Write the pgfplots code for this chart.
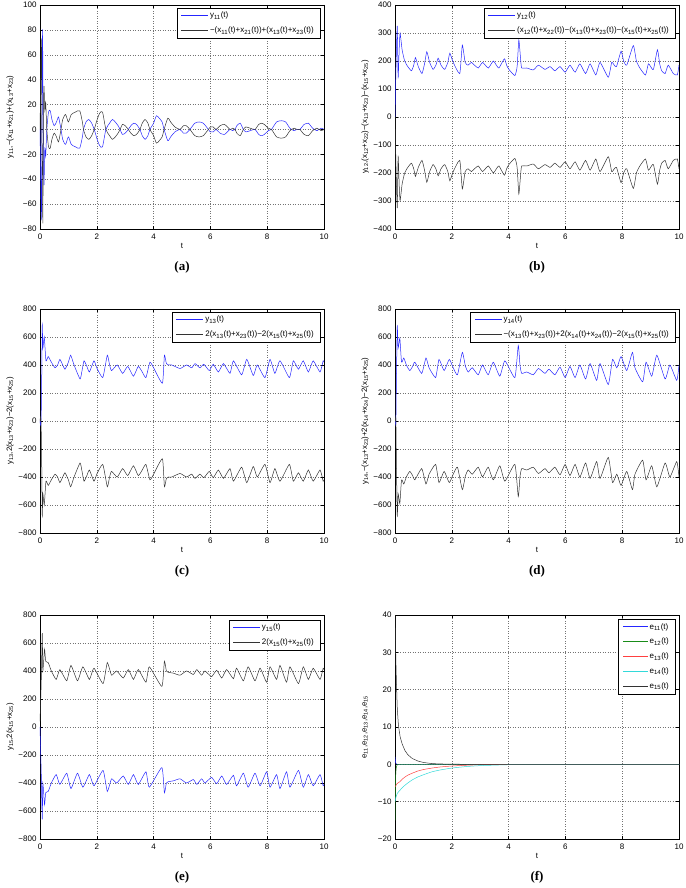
\documentclass[border=0pt]{standalone}
\usepackage{pgfplots}
\pgfplotsset{compat=1.18}
\usepackage{pgfplotstable}
\usepackage{fontspec}
\setmainfont{Liberation Sans}
\newfontfamily\capfont{Liberation Serif}
\newcommand{\s}[1]{\textsubscript{#1}}
\definecolor{mblue}{rgb}{0.15,0.15,1}
\definecolor{mblack}{rgb}{0.2,0.2,0.2}
\definecolor{mgreen}{rgb}{0.1,0.55,0.1}
\definecolor{mred}{rgb}{1,0.25,0.25}
\definecolor{mcyan}{rgb}{0.2,0.85,0.85}

\pgfplotstableread{
t b k
0 0 0
0.02 -30 30
0.05 -72 72
0.07 10 -10
0.09 80 -40
0.10 50 -75
0.12 -20 10
0.14 -45 35
0.17 -15 15
0.20 -22 22
0.24 0 0
0.30 14 -14
0.36 15 -15
0.42 8 -8
0.50 3 -3
0.58 6 -6
0.65 10 -10
0.70 5 -5
0.74 0 0
0.80 -8 8
0.90 -12 12
1.00 -6 6
1.10 -12 12
1.25 -14 14
1.40 -15 15
1.50 -5 5
1.53 0 0
1.62 6 -6
1.72 8 -8
1.82 5 -5
1.91 0 0
2.00 -7 7
2.10 -13 13
2.20 -14 14
2.32 0 0
2.45 5 -5
2.55 8 -8
2.65 6 -6
2.75 3 -3
2.82 0 0
2.90 -4 4
3.00 -3 3
3.11 0 0
3.20 3 -3
3.30 5 -5
3.40 4 -4
3.52 0 0
3.60 -5 5
3.70 -8 8
3.80 -5 5
3.87 0 0
4.00 5 -5
4.10 11 -11
4.20 9 -9
4.30 6 -6
4.37 0 0
4.50 -9 9
4.60 -6 6
4.75 -2 2
4.93 0 0
5.05 -3 3
5.15 -3 3
5.28 0 0
5.45 5 -5
5.60 6 -6
5.75 5 -5
5.93 0 0
6.00 -2 2
6.10 -2 2
6.20 0 0
6.34 -3 3
6.50 -4 4
6.69 0 0
6.78 -1 1
6.87 0 0
6.93 3 -3
7.05 5 -5
7.16 0 0
7.25 -2 2
7.40 -1 1
7.57 0 0
7.70 -4 4
7.80 -5 5
7.90 -4 4
8.04 -1 1
8.15 0 0
8.33 6 -6
8.50 7 -7
8.65 6 -6
8.80 1 -1
8.95 -1 1
9.05 0 0
9.15 0 0
9.30 4 -4
9.45 5 -5
9.60 1 -1
9.75 -1 1
9.90 1 -1
10 0 0
}\tA

\pgfplotstableread{
t b k
0 0 0
0.04 200 -200
0.08 325 -325
0.11 138 -138
0.15 250 -250
0.18 299 -299
0.25 240 -240
0.34 200 -200
0.45 180 -180
0.58 165 -165
0.66 185 -185
0.72 212 -212
0.82 180 -180
0.95 155 -155
1.04 190 -190
1.12 233 -233
1.22 195 -195
1.34 170 -170
1.44 185 -185
1.52 210 -210
1.62 185 -185
1.75 170 -170
1.86 195 -195
1.93 228 -228
2.05 195 -195
2.28 155 -155
2.37 257 -257
2.47 195 -195
2.57 185 -185
2.69 195 -195
2.80 185 -185
2.93 175 -175
3.08 195 -195
3.18 185 -185
3.29 175 -175
3.46 200 -200
3.55 188 -188
3.66 175 -175
3.85 208 -208
3.93 185 -185
4.01 170 -170
4.22 148 -148
4.30 180 -180
4.36 275 -275
4.42 210 -210
4.46 175 -175
4.64 175 -175
4.87 168 -168
5.05 185 -185
5.28 170 -170
5.46 180 -180
5.63 165 -165
5.81 180 -180
5.99 160 -160
6.16 185 -185
6.34 160 -160
6.51 190 -190
6.71 155 -155
6.87 190 -190
7.07 150 -150
7.22 195 -195
7.51 142 -142
7.63 195 -195
7.72 185 -185
7.80 180 -180
7.96 235 -235
8.05 200 -200
8.16 185 -185
8.39 255 -255
8.50 200 -200
8.62 175 -175
8.82 150 -150
8.92 190 -190
9.00 180 -180
9.10 170 -170
9.24 240 -240
9.32 190 -190
9.39 165 -165
9.51 155 -155
9.62 185 -185
9.80 155 -155
9.94 150 -150
10 185 -185
}\tB

\pgfplotstableread{
t b k
0 0 0
0.02 -30 30
0.04 30 -30
0.06 300 -300
0.08 690 -680
0.10 520 -520
0.15 600 -600
0.21 430 -430
0.29 460 -460
0.40 420 -420
0.53 380 -380
0.62 400 -400
0.70 440 -440
0.80 400 -400
0.88 370 -370
1.00 420 -420
1.08 470 -470
1.20 400 -400
1.41 300 -300
1.48 360 -360
1.55 430 -430
1.65 390 -390
1.74 350 -350
1.90 430 -430
2.00 380 -380
2.21 310 -310
2.37 470 -470
2.45 400 -400
2.52 360 -360
2.72 400 -400
2.91 340 -340
3.09 390 -390
3.29 320 -320
3.46 390 -390
3.60 350 -350
3.73 310 -310
3.87 420 -420
4.00 380 -380
4.31 270 -270
4.38 470 -470
4.45 410 -410
4.52 400 -400
4.64 400 -400
4.93 375 -375
5.16 400 -400
5.34 380 -380
5.46 410 -410
5.63 380 -380
5.77 405 -405
5.96 360 -360
6.10 405 -405
6.28 350 -350
6.46 410 -410
6.69 340 -340
6.81 430 -430
7.10 330 -330
7.28 440 -440
7.51 325 -325
7.65 400 -400
7.92 310 -310
8.10 440 -440
8.27 340 -340
8.45 430 -430
8.78 310 -310
8.92 430 -430
9.10 370 -370
9.27 430 -430
9.45 350 -350
9.62 430 -430
9.86 350 -350
9.97 430 -430
10 420 -420
}\tC

\pgfplotstableread{
t b k
0 0 0
0.03 -20 20
0.05 300 -300
0.08 680 -680
0.11 520 -520
0.17 590 -590
0.23 420 -420
0.31 450 -450
0.40 400 -400
0.52 360 -360
0.62 390 -390
0.70 420 -420
0.94 340 -340
1.09 450 -450
1.20 380 -380
1.43 310 -310
1.55 440 -440
1.73 360 -360
1.91 440 -440
2.05 380 -380
2.20 330 -330
2.37 490 -490
2.48 390 -390
2.58 350 -350
2.72 380 -380
2.93 330 -330
3.08 400 -400
3.28 330 -330
3.46 420 -420
3.69 320 -320
3.87 430 -430
4.22 310 -310
4.34 540 -540
4.40 400 -400
4.46 340 -340
4.64 350 -350
4.87 330 -330
5.05 375 -375
5.28 340 -340
5.42 370 -370
5.63 330 -330
5.81 385 -385
5.99 310 -310
6.16 390 -390
6.34 310 -310
6.51 400 -400
6.71 300 -300
6.87 410 -410
7.10 290 -290
7.22 410 -410
7.51 260 -260
7.66 440 -440
7.81 380 -380
7.96 460 -460
8.16 360 -360
8.36 490 -490
8.45 380 -380
8.72 280 -280
8.84 420 -420
9.04 320 -320
9.22 470 -470
9.51 300 -300
9.68 400 -400
9.92 290 -290
10 400 -400
}\tD

\pgfplotstableread{
t b k
0 0 40
0.04 -300 300
0.08 -660 670
0.10 -400 400
0.16 -555 555
0.20 -470 470
0.29 -460 460
0.40 -400 400
0.57 -340 340
0.70 -410 410
0.94 -330 330
1.09 -440 440
1.32 -330 330
1.51 -430 430
1.74 -340 340
1.90 -420 420
2.22 -310 310
2.37 -460 460
2.52 -370 370
2.70 -400 400
2.93 -350 350
3.11 -410 410
3.29 -340 340
3.46 -410 410
3.73 -320 320
3.85 -430 430
4.29 -290 290
4.38 -470 470
4.45 -400 400
4.52 -390 390
4.69 -385 385
4.93 -370 370
5.16 -400 400
5.40 -375 375
5.52 -410 410
5.69 -370 370
5.81 -400 400
6.04 -360 360
6.22 -405 405
6.40 -350 350
6.57 -410 410
6.81 -345 345
6.92 -420 420
7.16 -330 330
7.33 -430 430
7.57 -330 330
7.75 -420 420
7.98 -320 320
8.10 -430 430
8.33 -340 340
8.45 -440 440
8.68 -320 320
8.80 -430 430
9.10 -310 310
9.27 -430 430
9.45 -340 340
9.62 -420 420
9.86 -340 340
9.97 -420 420
10 -410 410
}\tE

\pgfplotstableread{
t ea eb ec ed ee
0 2 -15 -6 -10 40
0.01 1.2 -8 -5.9 -9.6 36
0.02 0.6 -4 -5.8 -9.2 32
0.03 0.3 -2 -5.7 -8.9 28
0.05 0.1 -0.6 -5.4 -8.4 22
0.08 0 -0.1 -5.1 -7.8 15
0.12 0 0 -4.9 -7.4 10.5
0.18 0 0 -4.6 -6.9 7.4
0.25 0 0 -4.0 -6.3 5.5
0.35 0 0 -3.4 -5.6 3.7
0.45 0 0 -2.9 -5.0 2.6
0.6 0 0 -2.4 -4.2 1.6
0.8 0 0 -1.8 -3.4 0.9
1.0 0 0 -1.4 -2.8 0.5
1.3 0 0 -1.0 -2.0 0.2
1.6 0 0 -0.7 -1.5 0.1
2.0 0 0 -0.45 -1.0 0.05
2.5 0 0 -0.25 -0.6 0
3 0 0 -0.12 -0.35 0
4 0 0 -0.03 -0.1 0
5 0 0 0 -0.03 0
10 0 0 0 0 0
}\tF

\pgfplotsset{
 mystyle/.style={
  scale only axis, width=284pt, height=224pt, anchor=south west,
  xmin=0, xmax=10, xtick={0,2,4,6,8,10}, xticklabels={0,2,4,6,8,10},
  grid=major, major grid style={black!55, line width=0.4pt, dash pattern=on 0.5pt off 2pt},
  tick align=inside, major tick length=3pt, tick style={black, line width=0.4pt},
  axis line style={black, line width=0.5pt},
  ticklabel style={font=\fontsize{8}{9}\selectfont},
  xticklabel style={yshift=-1pt},
  /pgf/number format/assume math mode=true,
  xlabel={t},
  xlabel style={font=\fontsize{8}{9}\selectfont, at={(axis description cs:0.5,-0.0759)}, anchor=center},
  ylabel style={font=\fontsize{7.8}{9}\selectfont, at={(axis description cs:-0.1056,0.5)}, anchor=center},
  legend style={font=\fontsize{8}{9}\selectfont, at={(axis description cs:0.986,0.987)}, anchor=north east, inner xsep=4pt, inner ysep=2pt, row sep=3.5pt},
  legend cell align=left,
  legend image code/.code={\fill[##1, draw=none] (0pt,-0.4pt) rectangle (27pt,0.4pt);},
  every axis plot/.append style={line width=0.5pt},
 }
}

\begin{document}
\begin{tikzpicture}
\path[use as bounding box] (0,0) rectangle (685pt,888pt);

% (a)
\begin{axis}[mystyle, at={(40pt,659pt)}, ymin=-80, ymax=100,
  ytick={-80,-60,-40,-20,0,20,40,60,80,100},
  yticklabels={−80,−60,−40,−20,0,20,40,60,80,100},
  ylabel={y\s{11},−(x\s{11}+x\s{21})+(x\s{13}+x\s{23})}]
\addplot[color=mblue, smooth, tension=0.4] table[x=t,y=b] {\tA};
\addlegendentry{y\s{11}(t)}
\addplot[color=mblack, smooth, tension=0.4] table[x=t,y=k] {\tA};
\addlegendentry{−(x\s{11}(t)+x\s{21}(t))+(x\s{13}(t)+x\s{23}(t))}
\end{axis}

% (b)
\begin{axis}[mystyle, at={(395pt,659pt)}, ymin=-400, ymax=400,
  ytick={-400,-300,-200,-100,0,100,200,300,400},
  yticklabels={−400,−300,−200,−100,0,100,200,300,400},
  ylabel={y\s{12},(x\s{12}+x\s{22})−(x\s{13}+x\s{23})−(x\s{15}+x\s{25})}]
\addplot[color=mblue, smooth, tension=0.3] table[x=t,y=b] {\tB};
\addlegendentry{y\s{12}(t)}
\addplot[color=mblack, smooth, tension=0.3] table[x=t,y=k] {\tB};
\addlegendentry{(x\s{12}(t)+x\s{22}(t))−(x\s{13}(t)+x\s{23}(t))−(x\s{15}(t)+x\s{25}(t))}
\end{axis}

% (c)
\begin{axis}[mystyle, at={(40pt,355pt)}, ymin=-800, ymax=800,
  ytick={-800,-600,-400,-200,0,200,400,600,800},
  yticklabels={−800,−600,−400,−200,0,200,400,600,800},
  ylabel={y\s{13},2(x\s{13}+x\s{23})−2(x\s{15}+x\s{25})}]
\addplot[color=mblue, smooth, tension=0.3] table[x=t,y=b] {\tC};
\addlegendentry{y\s{13}(t)}
\addplot[color=mblack, smooth, tension=0.3] table[x=t,y=k] {\tC};
\addlegendentry{2(x\s{13}(t)+x\s{23}(t))−2(x\s{15}(t)+x\s{25}(t))}
\end{axis}

% (d)
\begin{axis}[mystyle, at={(395pt,355pt)}, ymin=-800, ymax=800,
  ytick={-800,-600,-400,-200,0,200,400,600,800},
  yticklabels={−800,−600,−400,−200,0,200,400,600,800},
  ylabel={y\s{14},−(x\s{13}+x\s{23})+2(x\s{14}+x\s{24})−2(x\s{15}+x\s{25})}]
\addplot[color=mblue, smooth, tension=0.3] table[x=t,y=b] {\tD};
\addlegendentry{y\s{14}(t)}
\addplot[color=mblack, smooth, tension=0.3] table[x=t,y=k] {\tD};
\addlegendentry{−(x\s{13}(t)+x\s{23}(t))+2(x\s{14}(t)+x\s{24}(t))−2(x\s{15}(t)+x\s{25}(t))}
\end{axis}

% (e)
\begin{axis}[mystyle, at={(40pt,49pt)}, ymin=-800, ymax=800,
  ytick={-800,-600,-400,-200,0,200,400,600,800},
  yticklabels={−800,−600,−400,−200,0,200,400,600,800},
  ylabel={y\s{15},2(x\s{15}+x\s{25})},
  legend style={at={(axis description cs:0.986,0.978)}}]
\addplot[color=mblue, smooth, tension=0.3] table[x=t,y=b] {\tE};
\addlegendentry{y\s{15}(t)}
\addplot[color=mblack, smooth, tension=0.3] table[x=t,y=k] {\tE};
\addlegendentry{2(x\s{15}(t)+x\s{25}(t))}
\end{axis}

% (f)
\begin{axis}[mystyle, at={(395pt,49pt)}, ymin=-20, ymax=40,
  ytick={-20,-10,0,10,20,30,40},
  yticklabels={−20,−10,0,10,20,30,40},
  ylabel={e\s{11},e\s{12},e\s{13},e\s{14},e\s{15}},
  legend style={at={(axis description cs:0.986,0.982)}, row sep=3.5pt},
  legend image code/.code={\fill[#1, draw=none] (0pt,-0.4pt) rectangle (25pt,0.4pt);}]
\addplot[color=mblue] table[x=t,y=ea] {\tF};
\addlegendentry{e\s{11}(t)}
\addplot[color=mgreen] table[x=t,y=eb] {\tF};
\addlegendentry{e\s{12}(t)}
\addplot[color=mred, smooth, tension=0.3] table[x=t,y=ec] {\tF};
\addlegendentry{e\s{13}(t)}
\addplot[color=mcyan, smooth, tension=0.3] table[x=t,y=ed] {\tF};
\addlegendentry{e\s{14}(t)}
\addplot[color=mblack] table[x=t,y=ee] {\tF};
\addlegendentry{e\s{15}(t)}
\end{axis}

\node[font=\capfont\bfseries\fontsize{13}{14}\selectfont] at (182pt,621pt) {(a)};
\node[font=\capfont\bfseries\fontsize{13}{14}\selectfont] at (537pt,621pt) {(b)};
\node[font=\capfont\bfseries\fontsize{13}{14}\selectfont] at (182pt,317pt) {(c)};
\node[font=\capfont\bfseries\fontsize{13}{14}\selectfont] at (537pt,317pt) {(d)};
\node[font=\capfont\bfseries\fontsize{13}{14}\selectfont] at (182pt,11pt) {(e)};
\node[font=\capfont\bfseries\fontsize{13}{14}\selectfont] at (537pt,11pt) {(f)};
\end{tikzpicture}
\end{document}
